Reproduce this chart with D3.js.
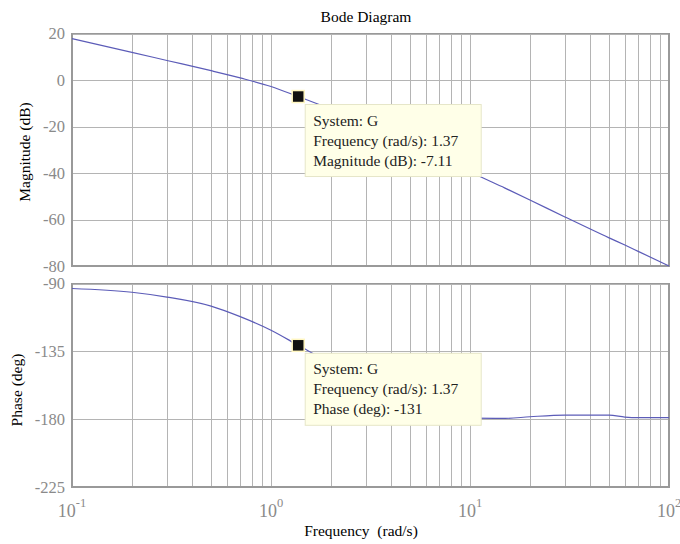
<!DOCTYPE html>
<html lang='en'>
  <head>
    <meta charset='utf-8'>
    <title>Bode Diagram</title>
    <script type='text/javascript' src='https://cdn.jsdelivr.net/npm/d3@7'></script>
    <style type='text/css'>
    body{ margin: 0; background: white; }
    text{ font-family: 'Liberation Serif', 'Times New Roman', serif; }
    .grid line{ stroke: #b4b4b4; stroke-width: 1; shape-rendering: crispEdges; }
    .grid path{ display: none; }
    .tick-label{ fill: #8a8a8a; font-size: 16.5px; }
    .frame{ fill: none; stroke: #999; stroke-width: 1.5; shape-rendering: crispEdges; }
    .curve{ fill: none; stroke: #5c5cb8; stroke-width: 1.2; }
    .tip rect{ fill: #ffffe8; stroke: #e6e6c8; stroke-width: 1; }
    .tip text{ font-size: 15.5px; fill: #222; }
    </style>
  </head>
  <body>
    <script type='text/javascript'>

    var w = 680;
    var h = 544;

    // data
    var freq  = [0.1, 0.2, 0.3, 0.5, 0.7, 1, 1.37, 2, 3, 5, 7, 10, 15, 20, 30, 50, 60, 70, 100];
    var magDb = [17.8, 11.9, 8.4, 4.0, 0.9, -2.8, -7.11, -12.5, -18.5, -27, -32.5, -39.5, -46.5, -51.6, -58.9, -67.9, -71.0, -73.7, -80];
    var phaseDeg = [-93.3, -95.8, -99, -105, -112, -121, -131, -143, -155, -167, -174, -179.3, -179.5, -178.4, -177.3, -177.3, -178.6, -179, -179];
    var magTicks = [20, 0, -20, -40, -60, -80];
    var phaseTicks = [-90, -135, -180, -225];
    var decadeTicks = [0.1, 1, 10, 100];
    var decadeExp = ['-1', '0', '1', '2'];
    var cursorFreq = 1.37;
    var cursorMag = -7.11;
    var cursorPhase = -131;
    var magTip = ['System: G', 'Frequency (rad/s): 1.37', 'Magnitude (dB): -7.11'];
    var phaseTip = ['System: G', 'Frequency (rad/s): 1.37', 'Phase (deg): -131'];

    var left = 72, right = 669;

    var svg = d3.select('body')
                .append('svg')
                .attr('width', w)
                .attr('height', h);

    var xScale = d3.scaleLog()
                   .domain([0.1, 100])
                   .range([left, right]);

    var magScale = d3.scaleLinear()
                     .domain([-80, 20])
                     .range([266, 33.5]);

    var phaseScale = d3.scaleLinear()
                       .domain([-225, -90])
                       .range([487, 283.5]);

    // minor + major frequency grid values
    var xGrid = [];
    decadeTicks.forEach(function(d, i){
      if (i == decadeTicks.length - 1) return;
      for (var k = 1; k < 10; k++) xGrid.push(d * k);
    });
    xGrid.push(100);

    function drawPanel(yScale, yTicks){
      var top = yScale.range()[1], bottom = yScale.range()[0];

      svg.append('g')
         .attr('class', 'grid')
         .attr('transform', 'translate(0,' + bottom + ')')
         .call(d3.axisBottom(xScale).tickValues(xGrid).tickSize(-(bottom - top)).tickFormat(''));

      svg.append('g')
         .attr('class', 'grid')
         .attr('transform', 'translate(' + left + ',0)')
         .call(d3.axisLeft(yScale).tickValues(yTicks).tickSize(-(right - left)).tickFormat(''));

      svg.selectAll(null)
         .data(yTicks)
         .enter()
         .append('text')
         .attr('class', 'tick-label')
         .attr('x', left - 7)
         .attr('y', function(d){ return yScale(d); })
         .attr('dy', '0.34em')
         .attr('text-anchor', 'end')
         .text(function(d){ return d; });

      svg.append('rect')
         .attr('class', 'frame')
         .attr('x', left)
         .attr('y', top)
         .attr('width', right - left)
         .attr('height', bottom - top);
    }

    drawPanel(magScale, magTicks);
    drawPanel(phaseScale, phaseTicks);

    var magLine = d3.line()
                    .curve(d3.curveMonotoneX)
                    .x(function(d, i){ return xScale(freq[i]); })
                    .y(function(d){ return magScale(d); });

    var phaseLine = d3.line()
                      .curve(d3.curveMonotoneX)
                      .x(function(d, i){ return xScale(freq[i]); })
                      .y(function(d){ return phaseScale(d); });

    svg.append('path').attr('class', 'curve').attr('d', magLine(magDb));
    svg.append('path').attr('class', 'curve').attr('d', phaseLine(phaseDeg));

    // x tick labels 10^n
    var xl = svg.selectAll(null)
                .data(decadeTicks)
                .enter()
                .append('text')
                .attr('class', 'tick-label')
                .attr('x', function(d){ return xScale(d); })
                .attr('y', 517)
                .attr('text-anchor', 'middle')
                .style('font-size', '18px');
    xl.append('tspan').text('10');
    xl.append('tspan')
      .attr('dy', -10)
      .style('font-size', '12.5px')
      .text(function(d, i){ return decadeExp[i]; });

    // data cursors
    function drawTip(yScale, yVal, lines){
      var cx = xScale(cursorFreq), cy = yScale(yVal);
      var g = svg.append('g').attr('class', 'tip');
      g.append('rect')
       .attr('x', cx + 7)
       .attr('y', cy + 8)
       .attr('width', 176)
       .attr('height', 72);
      g.selectAll('text')
       .data(lines)
       .enter()
       .append('text')
       .attr('x', cx + 15)
       .attr('y', function(d, i){ return cy + 29 + i * 20; })
       .text(function(d){ return d; });
      svg.append('rect')
         .attr('x', cx - 6)
         .attr('y', cy - 6)
         .attr('width', 12)
         .attr('height', 12)
         .attr('fill', '#111')
         .attr('stroke', '#fff6c0')
         .attr('stroke-width', 1.5);
    }

    drawTip(magScale, cursorMag, magTip);
    drawTip(phaseScale, cursorPhase, phaseTip);

    // titles
    svg.append('text')
       .attr('x', 366)
       .attr('y', 22)
       .attr('text-anchor', 'middle')
       .style('font-size', '15.5px')
       .text('Bode Diagram');

    svg.append('text')
       .attr('x', 361)
       .attr('y', 536)
       .attr('text-anchor', 'middle')
       .style('font-size', '15.5px')
       .style('white-space', 'pre')
       .text('Frequency  (rad/s)');

    svg.append('text')
       .attr('transform', 'translate(30,152) rotate(-90)')
       .attr('text-anchor', 'middle')
       .style('font-size', '15.5px')
       .text('Magnitude (dB)');

    svg.append('text')
       .attr('transform', 'translate(22,390) rotate(-90)')
       .attr('text-anchor', 'middle')
       .style('font-size', '15.5px')
       .text('Phase (deg)');

    </script>
  </body>
</html>
